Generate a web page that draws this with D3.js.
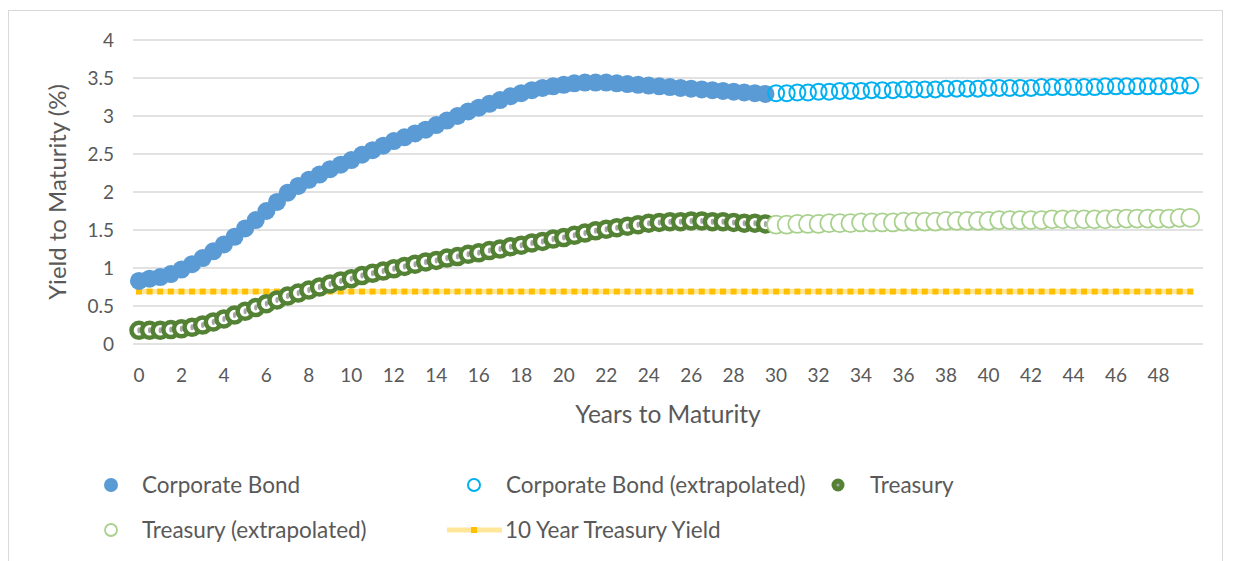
<!DOCTYPE html>
<html>
<head>
<meta charset="utf-8">
<script src="https://cdn.jsdelivr.net/npm/d3@7"></script>
<style>
  body { margin: 0; background: #fff; }
  text { font-family: Lato, "Open Sans", sans-serif; fill: #595959; }
</style>
</head>
<body>
<div id="chart"></div>
<script>
// years to maturity, every half year
const years = d3.range(0, 50, 0.5)
const xTickLabels = [0, 2, 4, 6, 8, 10, 12, 14, 16, 18, 20, 22, 24, 26, 28, 30, 32, 34, 36, 38, 40, 42, 44, 46, 48]
const yTickLabels = [0, 0.5, 1, 1.5, 2, 2.5, 3, 3.5, 4]

// 0 .. 29.5
const corporateBond = [
  0.83, 0.86, 0.88, 0.92, 0.98, 1.05, 1.13, 1.22, 1.31, 1.41,
  1.52, 1.63, 1.75, 1.87, 1.99, 2.08, 2.16, 2.23, 2.30, 2.36,
  2.42, 2.49, 2.55, 2.61, 2.67, 2.72, 2.77, 2.82, 2.88, 2.94,
  3.00, 3.06, 3.11, 3.16, 3.21, 3.26, 3.30, 3.34, 3.37, 3.39,
  3.41, 3.43, 3.44, 3.44, 3.44, 3.43, 3.42, 3.41, 3.40, 3.39,
  3.38, 3.37, 3.36, 3.35, 3.34, 3.33, 3.32, 3.31, 3.30, 3.29
]
// 30 .. 49.5
const corporateBondExt = [
  3.30, 3.30, 3.31, 3.31, 3.32, 3.32, 3.33, 3.33, 3.33, 3.34,
  3.34, 3.34, 3.35, 3.35, 3.35, 3.35, 3.36, 3.36, 3.36, 3.36,
  3.37, 3.37, 3.37, 3.37, 3.37, 3.38, 3.38, 3.38, 3.38, 3.38,
  3.38, 3.39, 3.39, 3.39, 3.39, 3.39, 3.39, 3.39, 3.40, 3.40
]
// 0 .. 29.5
const treasury = [
  0.18, 0.18, 0.18, 0.19, 0.20, 0.22, 0.25, 0.29, 0.33, 0.38,
  0.43, 0.48, 0.53, 0.58, 0.63, 0.67, 0.71, 0.75, 0.79, 0.83,
  0.86, 0.90, 0.93, 0.96, 0.99, 1.02, 1.05, 1.08, 1.10, 1.13,
  1.15, 1.18, 1.20, 1.23, 1.25, 1.28, 1.30, 1.33, 1.35, 1.38,
  1.40, 1.43, 1.46, 1.49, 1.51, 1.53, 1.55, 1.57, 1.59, 1.60,
  1.61, 1.61, 1.62, 1.62, 1.61, 1.61, 1.60, 1.59, 1.59, 1.58
]
// 30 .. 49.5
const treasuryExt = [
  1.57, 1.57, 1.58, 1.58, 1.58, 1.59, 1.59, 1.59, 1.60, 1.60,
  1.60, 1.60, 1.61, 1.61, 1.61, 1.61, 1.62, 1.62, 1.62, 1.62,
  1.62, 1.63, 1.63, 1.63, 1.63, 1.63, 1.64, 1.64, 1.64, 1.64,
  1.64, 1.64, 1.65, 1.65, 1.65, 1.65, 1.65, 1.65, 1.66, 1.66
]
const tenYearYield = 0.69

const width = 1233, height = 561

const svg = d3.select('#chart')
  .append('svg')
  .attr('width', width)
  .attr('height', height)

// outer chart border
svg.append('rect')
  .attr('x', 8.5).attr('y', 10.5)
  .attr('width', 1214).attr('height', 560)
  .attr('fill', 'none')
  .attr('stroke', '#d9d9d9')

const x = d3.scaleLinear()
  .domain([-0.28, 50.1])
  .range([133, 1203])

const y = d3.scaleLinear()
  .domain([0, 4])
  .range([344, 40])

// gridlines
svg.append('g')
  .selectAll('line')
  .data(yTickLabels)
  .enter()
  .append('line')
  .attr('x1', x.range()[0]).attr('x2', x.range()[1])
  .attr('y1', d => y(d)).attr('y2', d => y(d))
  .attr('stroke', '#d9d9d9')
  .attr('stroke-width', 1.3)

// y tick labels
svg.append('g')
  .selectAll('text')
  .data(yTickLabels)
  .enter()
  .append('text')
  .attr('x', 114)
  .attr('y', d => y(d))
  .attr('dy', '0.35em')
  .attr('text-anchor', 'end')
  .style('font-size', '19px')
  .text(d => d)

// x tick labels
svg.append('g')
  .selectAll('text')
  .data(xTickLabels)
  .enter()
  .append('text')
  .attr('x', d => x(d))
  .attr('y', 375)
  .attr('dy', '0.35em')
  .attr('text-anchor', 'middle')
  .style('font-size', '19px')
  .text(d => d)

// axis titles
svg.append('text')
  .attr('x', 668).attr('y', 414)
  .attr('dy', '0.35em')
  .attr('text-anchor', 'middle')
  .style('font-size', '24.5px')
  .text('Years to Maturity')

svg.append('text')
  .attr('transform', 'translate(58,192)rotate(-90)')
  .attr('dy', '0.35em')
  .attr('text-anchor', 'middle')
  .style('font-size', '24px')
  .text('Yield to Maturity (%)')

const early = years.slice(0, 60)
const late = years.slice(60)

// 10 year treasury yield: pale line + square markers
svg.append('line')
  .attr('x1', x(years[0]) - 3).attr('x2', x(years[years.length - 1]) + 3)
  .attr('y1', y(tenYearYield)).attr('y2', y(tenYearYield))
  .attr('stroke', '#ffe699')
  .attr('stroke-width', 5)
svg.append('g')
  .selectAll('rect')
  .data(years)
  .enter()
  .append('rect')
  .attr('x', d => x(d) - 3)
  .attr('y', y(tenYearYield) - 3)
  .attr('width', 6).attr('height', 6)
  .attr('fill', '#ffc000')

// corporate bond
svg.append('g')
  .selectAll('circle')
  .data(corporateBond)
  .enter()
  .append('circle')
  .attr('cx', (d, i) => x(early[i]))
  .attr('cy', d => y(d))
  .attr('r', 9)
  .attr('fill', '#5b9bd5')

svg.append('g')
  .selectAll('circle')
  .data(corporateBondExt)
  .enter()
  .append('circle')
  .attr('cx', (d, i) => x(late[i]))
  .attr('cy', d => y(d))
  .attr('r', 8)
  .attr('fill', 'none')
  .attr('stroke', '#00b0f0')
  .attr('stroke-width', 2)

// treasury
const tg = svg.append('g')
  .selectAll('g')
  .data(treasury)
  .enter()
  .append('g')
  .attr('transform', (d, i) => `translate(${x(early[i])},${y(d)})`)
tg.append('circle')
  .attr('r', 7.5)
  .attr('fill', '#fff')
  .attr('stroke', '#548235')
  .attr('stroke-width', 4.5)
tg.append('ellipse')
  .attr('rx', 1.6).attr('ry', 3)
  .attr('fill', '#a5a5a5')

svg.append('g')
  .selectAll('circle')
  .data(treasuryExt)
  .enter()
  .append('circle')
  .attr('cx', (d, i) => x(late[i]))
  .attr('cy', d => y(d))
  .attr('r', 9)
  .attr('fill', '#fff')
  .attr('stroke', '#a9d18e')
  .attr('stroke-width', 1.8)

// legend
const legend = svg.append('g').style('font-size', '22.5px')

legend.append('circle').attr('cx', 111).attr('cy', 485).attr('r', 7).attr('fill', '#5b9bd5')
legend.append('text').attr('x', 142).attr('y', 485).attr('dy', '0.35em').text('Corporate Bond')

legend.append('circle').attr('cx', 474).attr('cy', 485).attr('r', 6).attr('fill', 'none')
  .attr('stroke', '#00b0f0').attr('stroke-width', 2)
legend.append('text').attr('x', 506).attr('y', 485).attr('dy', '0.35em').text('Corporate Bond (extrapolated)')

legend.append('circle').attr('cx', 838).attr('cy', 485).attr('r', 6.5).attr('fill', '#548235')
legend.append('circle').attr('cx', 838).attr('cy', 485).attr('r', 1.6).attr('fill', '#a5a5a5')
legend.append('text').attr('x', 870).attr('y', 485).attr('dy', '0.35em').text('Treasury')

legend.append('circle').attr('cx', 111).attr('cy', 530).attr('r', 6).attr('fill', '#fff')
  .attr('stroke', '#a9d18e').attr('stroke-width', 1.8)
legend.append('text').attr('x', 142).attr('y', 530).attr('dy', '0.35em').text('Treasury (extrapolated)')

legend.append('line').attr('x1', 447).attr('x2', 502).attr('y1', 530).attr('y2', 530)
  .attr('stroke', '#ffe699').attr('stroke-width', 5)
legend.append('rect').attr('x', 471).attr('y', 527).attr('width', 6).attr('height', 6).attr('fill', '#ffc000')
legend.append('text').attr('x', 505).attr('y', 530).attr('dy', '0.35em').text('10 Year Treasury Yield')
</script>
</body>
</html>
